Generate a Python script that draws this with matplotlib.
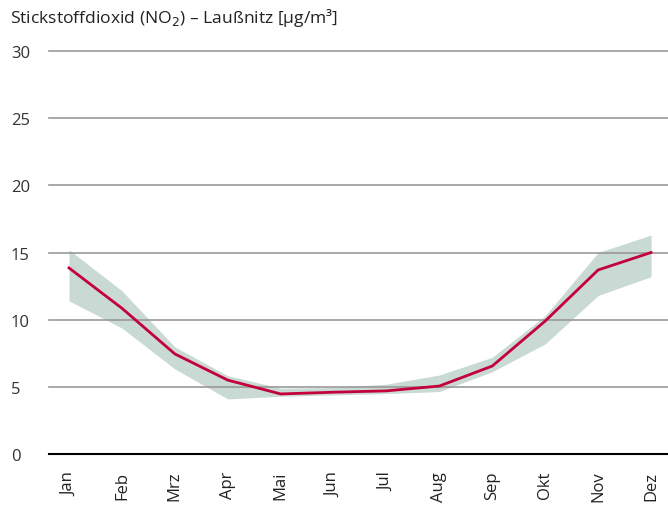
import matplotlib.pyplot as plt

monate = ["Jan", "Feb", "Mrz", "Apr", "Mai", "Jun", "Jul", "Aug", "Sep", "Okt", "Nov", "Dez"]
mittel = [13.85, 10.85, 7.45, 5.5, 4.47, 4.6, 4.7, 5.06, 6.55, 9.9, 13.7, 15.0]
oben = [15.2, 12.15, 7.97, 5.83, 4.9, 4.95, 5.2, 5.88, 7.2, 10.3, 15.0, 16.3]
unten = [11.4, 9.38, 6.33, 4.1, 4.3, 4.4, 4.5, 4.65, 6.13, 8.2, 11.8, 13.2]
yticks = [0, 5, 10, 15, 20, 25, 30]

plt.rcParams['font.family'] = ['Open Sans', 'DejaVu Sans']

fig = plt.figure(figsize=(6.68, 5.06), dpi=100)
ax = fig.add_axes([49 / 668, 1 - 455 / 506, 619 / 668, (455 - 52) / 506])

x = list(range(len(monate)))
ax.fill_between(x, unten, oben, color='#c9d9d3', linewidth=0, zorder=1)
ax.plot(x, mittel, color='#c4003c', linewidth=2, zorder=3)

ax.set_xlim(-0.378, 11.32)
ax.set_ylim(0, 30)
ax.set_yticks(yticks)
for t in yticks:
    ax.axhline(t, color='#000000' if t == 0 else '#999999',
               linewidth=1.5 if t == 0 else 1.2, zorder=2, clip_on=False)

ax.set_xticks(x)
ax.set_xticklabels(monate, rotation=90, fontsize=12, color='#222222')
ax.tick_params(axis='x', length=0, pad=12)
ax.tick_params(axis='y', length=0, pad=27.4, labelsize=12, labelcolor='#333333')
for lab in ax.get_yticklabels():
    lab.set_ha('left')

for s in ax.spines.values():
    s.set_visible(False)

fig.text(10 / 668, 1 - 18 / 506, "Stickstoffdioxid (NO$_2$) – Laußnitz [µg/m³]",
         fontsize=12.6, color='#222222', va='center', ha='left')

fig.savefig('out.png', dpi=100)
